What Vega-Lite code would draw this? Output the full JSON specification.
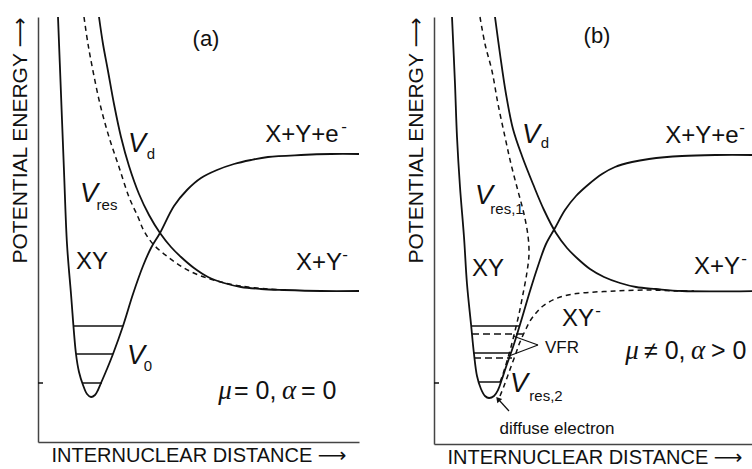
{
  "$schema": "https://vega.github.io/schema/vega-lite/v6.json",
  "padding": {"left": 8, "top": 13, "right": 0, "bottom": 0},
  "spacing": 41,
  "background": "white",
  "config": {
    "view": {"stroke": null},
    "font": "Liberation Sans",
    "axis": {"ticks": false, "labels": false, "grid": false, "domainColor": "#444", "domainWidth": 1.5, "titleFont": "Liberation Sans, DejaVu Sans", "titleFontSize": 20, "titleFontWeight": "normal", "titleColor": "#111"},
    "axisX": {"titlePadding": 3},
    "axisY": {"titlePadding": 8, "titleAnchor": "end", "titleFontSize": 21}
  },
  "datasets": {
    "a_solid": [
      {"c":"XY","i":1,"x":20,"y":425},{"c":"XY","i":2,"x":23,"y":348},{"c":"XY","i":3,"x":26,"y":271},{"c":"XY","i":4,"x":29,"y":198},{"c":"XY","i":5,"x":33,"y":148},{"c":"XY","i":6,"x":38,"y":88},{"c":"XY","i":7,"x":41,"y":70},{"c":"XY","i":8,"x":45,"y":57},{"c":"XY","i":9,"x":49,"y":48},{"c":"XY","i":10,"x":53,"y":45},{"c":"XY","i":11,"x":57,"y":47},{"c":"XY","i":12,"x":60,"y":52},{"c":"XY","i":13,"x":63,"y":59},{"c":"XY","i":14,"x":69,"y":73},{"c":"XY","i":15,"x":75,"y":88},{"c":"XY","i":16,"x":85,"y":116},{"c":"XY","i":17,"x":95,"y":148},{"c":"XY","i":18,"x":105,"y":176},{"c":"XY","i":19,"x":113,"y":194},{"c":"XY","i":20,"x":122,"y":209},{"c":"XY","i":21,"x":136,"y":236},{"c":"XY","i":22,"x":149,"y":252},{"c":"XY","i":23,"x":163,"y":264},{"c":"XY","i":24,"x":179,"y":272},{"c":"XY","i":25,"x":196,"y":278},{"c":"XY","i":26,"x":213,"y":282},{"c":"XY","i":27,"x":230,"y":285},{"c":"XY","i":28,"x":263,"y":287},{"c":"XY","i":29,"x":293,"y":288},{"c":"XY","i":30,"x":321,"y":288},
      {"c":"Vd","i":1,"x":61,"y":425},{"c":"Vd","i":2,"x":65,"y":398},{"c":"Vd","i":3,"x":70,"y":371},{"c":"Vd","i":4,"x":76,"y":338},{"c":"Vd","i":5,"x":83,"y":305},{"c":"Vd","i":6,"x":91,"y":276},{"c":"Vd","i":7,"x":101,"y":248},{"c":"Vd","i":8,"x":111,"y":227},{"c":"Vd","i":9,"x":122,"y":209},{"c":"Vd","i":10,"x":133,"y":195},{"c":"Vd","i":11,"x":143,"y":185},{"c":"Vd","i":12,"x":156,"y":174},{"c":"Vd","i":13,"x":170,"y":165},{"c":"Vd","i":14,"x":186,"y":159},{"c":"Vd","i":15,"x":203,"y":155},{"c":"Vd","i":16,"x":223,"y":153},{"c":"Vd","i":17,"x":246,"y":152},{"c":"Vd","i":18,"x":283,"y":151},{"c":"Vd","i":19,"x":321,"y":151}
    ],
    "a_dashed": [
      {"c":"Vres","i":1,"x":46,"y":425},{"c":"Vres","i":2,"x":50,"y":398},{"c":"Vres","i":3,"x":55,"y":371},{"c":"Vres","i":4,"x":62,"y":338},{"c":"Vres","i":5,"x":71,"y":305},{"c":"Vres","i":6,"x":81,"y":275},{"c":"Vres","i":7,"x":91,"y":245},{"c":"Vres","i":8,"x":100,"y":225},{"c":"Vres","i":9,"x":106,"y":211},{"c":"Vres","i":10,"x":115,"y":198},{"c":"Vres","i":11,"x":130,"y":185},{"c":"Vres","i":12,"x":146,"y":174},{"c":"Vres","i":13,"x":163,"y":166},{"c":"Vres","i":14,"x":183,"y":160},{"c":"Vres","i":15,"x":203,"y":156},{"c":"Vres","i":16,"x":230,"y":153},{"c":"Vres","i":17,"x":250,"y":152}
    ],
    "a_levels": [
      {"x":36,"x2":85,"y":116},{"x":38,"x2":75,"y":88},{"x":44,"x2":64,"y":59},{"x":0,"x2":5,"y":59}
    ],
    "a_big": [
      {"x":54,"y":180,"t":"XY"},{"x":264,"y":307,"t":"X+Y+e"},{"x":281,"y":179,"t":"X+Y"}
    ],
    "a_sup": [{"x":306,"y":315,"t":"-"},{"x":307,"y":187,"t":"-"}],
    "a_greek": [{"x":187,"y":51,"t":"μ"},{"x":251,"y":51,"t":"α"}],
    "a_rel": [{"x":196,"y":51,"t":"= 0,"},{"x":263,"y":51,"t":"= 0"}],
    "a_panel": [{"x":168,"y":403,"t":"(a)"}],
    "a_v": [{"x":99,"y":298,"t":"V"},{"x":51,"y":248,"t":"V"},{"x":98,"y":86,"t":"V"}],
    "a_sub": [{"x":113,"y":288,"t":"d"},{"x":69,"y":237,"t":"res"},{"x":110,"y":76,"t":"0"}],
    "b_solid": [
      {"c":"XY","i":1,"x":18,"y":427},{"c":"XY","i":2,"x":21,"y":360},{"c":"XY","i":3,"x":23,"y":307},{"c":"XY","i":4,"x":26,"y":257},{"c":"XY","i":5,"x":30,"y":207},{"c":"XY","i":6,"x":33,"y":160},{"c":"XY","i":7,"x":37,"y":120},{"c":"XY","i":8,"x":40,"y":90},{"c":"XY","i":9,"x":43,"y":68},{"c":"XY","i":10,"x":47,"y":55},{"c":"XY","i":11,"x":51,"y":48},{"c":"XY","i":12,"x":55,"y":46},{"c":"XY","i":13,"x":60,"y":48},{"c":"XY","i":14,"x":64,"y":54},{"c":"XY","i":15,"x":68,"y":65},{"c":"XY","i":16,"x":72,"y":77},{"c":"XY","i":17,"x":80,"y":100},{"c":"XY","i":18,"x":88,"y":126},{"c":"XY","i":19,"x":96,"y":153},{"c":"XY","i":20,"x":104,"y":178},{"c":"XY","i":21,"x":112,"y":200},{"c":"XY","i":22,"x":121,"y":216},{"c":"XY","i":23,"x":131,"y":234},{"c":"XY","i":24,"x":142,"y":248},{"c":"XY","i":25,"x":155,"y":260},{"c":"XY","i":26,"x":168,"y":270},{"c":"XY","i":27,"x":181,"y":277},{"c":"XY","i":28,"x":198,"y":282},{"c":"XY","i":29,"x":215,"y":285},{"c":"XY","i":30,"x":248,"y":288},{"c":"XY","i":31,"x":282,"y":289},{"c":"XY","i":32,"x":321,"y":289},
      {"c":"Vd","i":1,"x":61,"y":427},{"c":"Vd","i":2,"x":66,"y":390},{"c":"Vd","i":3,"x":72,"y":350},{"c":"Vd","i":4,"x":79,"y":315},{"c":"Vd","i":5,"x":88,"y":288},{"c":"Vd","i":6,"x":99,"y":260},{"c":"Vd","i":7,"x":110,"y":234},{"c":"Vd","i":8,"x":122,"y":211},{"c":"Vd","i":9,"x":133,"y":196},{"c":"Vd","i":10,"x":144,"y":185},{"c":"Vd","i":11,"x":156,"y":175},{"c":"Vd","i":12,"x":170,"y":167},{"c":"Vd","i":13,"x":186,"y":161},{"c":"Vd","i":14,"x":202,"y":157},{"c":"Vd","i":15,"x":222,"y":155},{"c":"Vd","i":16,"x":248,"y":153},{"c":"Vd","i":17,"x":321,"y":153}
    ],
    "b_dashed": [
      {"c":"Vres1","i":1,"x":46,"y":427},{"c":"Vres1","i":2,"x":51,"y":400},{"c":"Vres1","i":3,"x":58,"y":373},{"c":"Vres1","i":4,"x":64,"y":340},{"c":"Vres1","i":5,"x":71,"y":307},{"c":"Vres1","i":6,"x":77,"y":280},{"c":"Vres1","i":7,"x":84,"y":253},{"c":"Vres1","i":8,"x":90,"y":230},{"c":"Vres1","i":9,"x":94,"y":208},{"c":"Vres1","i":10,"x":95,"y":190},{"c":"Vres1","i":11,"x":93,"y":172},{"c":"Vres1","i":12,"x":89,"y":150},{"c":"Vres1","i":13,"x":85,"y":130},{"c":"Vres1","i":14,"x":81,"y":113},{"c":"Vres1","i":15,"x":77,"y":97},{"c":"Vres1","i":16,"x":73,"y":83},{"c":"Vres1","i":17,"x":69,"y":70},{"c":"Vres1","i":18,"x":65,"y":59},
      {"c":"XYm","i":1,"x":66,"y":48},{"c":"XYm","i":2,"x":70,"y":58},{"c":"XYm","i":3,"x":74,"y":69},{"c":"XYm","i":4,"x":78,"y":80},{"c":"XYm","i":5,"x":82,"y":91},{"c":"XYm","i":6,"x":86,"y":102},{"c":"XYm","i":7,"x":91,"y":113},{"c":"XYm","i":8,"x":96,"y":123},{"c":"XYm","i":9,"x":102,"y":131},{"c":"XYm","i":10,"x":109,"y":138},{"c":"XYm","i":11,"x":121,"y":145},{"c":"XYm","i":12,"x":134,"y":149},{"c":"XYm","i":13,"x":148,"y":151},{"c":"XYm","i":14,"x":181,"y":153},{"c":"XYm","i":15,"x":215,"y":154},{"c":"XYm","i":16,"x":242,"y":153},{"c":"XYm","i":17,"x":260,"y":153}
    ],
    "b_levels_solid": [
      {"x":37,"x2":85,"y":118},{"x":39,"x2":77,"y":91},{"x":45,"x2":66,"y":62},{"x":0,"x2":5,"y":61}
    ],
    "b_levels_dashed": [
      {"x":38,"x2":89,"y":110},{"x":40,"x2":78,"y":86}
    ],
    "b_arrows": [
      {"x":104,"y":99,"x2":79,"y2":108},{"x":104,"y":99,"x2":75,"y2":88},{"x":75,"y":33,"x2":65,"y2":44}
    ],
    "b_head": [{"x":64,"y":45}],
    "b_big": [
      {"x":54,"y":175,"t":"XY"},{"x":268,"y":308,"t":"X+Y+e"},{"x":283,"y":177,"t":"X+Y"},{"x":144,"y":125,"t":"XY"}
    ],
    "b_sup": [{"x":308,"y":316,"t":"-"},{"x":310,"y":185,"t":"-"},{"x":164,"y":133,"t":"-"}],
    "b_greek": [{"x":198,"y":93,"t":"μ"},{"x":264,"y":93,"t":"α"}],
    "b_rel": [{"x":210,"y":93,"t":"≠ 0,"},{"x":277,"y":93,"t":"> 0"}],
    "b_panel": [{"x":163,"y":408,"t":"(b)"}],
    "b_small": [{"x":128,"y":96,"t":"VFR"},{"x":123,"y":15,"t":"diffuse electron"}],
    "b_v": [{"x":97,"y":309,"t":"V"},{"x":50,"y":248,"t":"V"},{"x":85,"y":60,"t":"V"}],
    "b_sub": [{"x":111,"y":301,"t":"d"},{"x":73,"y":235,"t":"res,1"},{"x":112,"y":48,"t":"res,2"}]
  },
  "hconcat": [
    {
      "width": 321,
      "height": 425,
      "encoding": {
        "x": {"field": "x", "type": "quantitative", "scale": {"domain": [0, 321], "nice": false, "zero": false}, "axis": {"title": "INTERNUCLEAR DISTANCE  ⟶"}},
        "y": {"field": "y", "type": "quantitative", "scale": {"domain": [0, 425], "nice": false, "zero": false}, "axis": {"title": "POTENTIAL ENERGY  ⟶"}}
      },
      "layer": [
        {"data": {"name": "a_solid"}, "mark": {"type": "line", "interpolate": "catmull-rom", "color": "#111", "strokeWidth": 1.8}, "encoding": {"detail": {"field": "c"}, "order": {"field": "i", "type": "quantitative"}}},
        {"data": {"name": "a_dashed"}, "mark": {"type": "line", "interpolate": "catmull-rom", "color": "#111", "strokeWidth": 1.5, "strokeDash": [5, 4]}, "encoding": {"detail": {"field": "c"}, "order": {"field": "i", "type": "quantitative"}}},
        {"data": {"name": "a_levels"}, "mark": {"type": "rule", "color": "#111", "strokeWidth": 1.5}, "encoding": {"x2": {"field": "x2"}}},
        {"data": {"name": "a_big"}, "mark": {"type": "text", "fontSize": 24, "color": "#111"}, "encoding": {"text": {"field": "t"}}},
        {"data": {"name": "a_sup"}, "mark": {"type": "text", "fontSize": 17, "color": "#111"}, "encoding": {"text": {"field": "t"}}},
        {"data": {"name": "a_greek"}, "mark": {"type": "text", "fontSize": 27, "fontStyle": "italic", "font": "Liberation Serif", "color": "#111"}, "encoding": {"text": {"field": "t"}}},
        {"data": {"name": "a_rel"}, "mark": {"type": "text", "fontSize": 25, "align": "left", "color": "#111"}, "encoding": {"text": {"field": "t"}}},
        {"data": {"name": "a_panel"}, "mark": {"type": "text", "fontSize": 22, "color": "#111"}, "encoding": {"text": {"field": "t"}}},
        {"data": {"name": "a_v"}, "mark": {"type": "text", "fontSize": 27, "fontStyle": "italic", "color": "#111"}, "encoding": {"text": {"field": "t"}}},
        {"data": {"name": "a_sub"}, "mark": {"type": "text", "fontSize": 15, "color": "#111"}, "encoding": {"text": {"field": "t"}}}
      ]
    },
    {
      "width": 321,
      "height": 427,
      "encoding": {
        "x": {"field": "x", "type": "quantitative", "scale": {"domain": [0, 321], "nice": false, "zero": false}, "axis": {"title": "INTERNUCLEAR DISTANCE  ⟶"}},
        "y": {"field": "y", "type": "quantitative", "scale": {"domain": [0, 427], "nice": false, "zero": false}, "axis": {"title": "POTENTIAL ENERGY  ⟶"}}
      },
      "layer": [
        {"data": {"name": "b_solid"}, "mark": {"type": "line", "interpolate": "catmull-rom", "color": "#111", "strokeWidth": 1.8}, "encoding": {"detail": {"field": "c"}, "order": {"field": "i", "type": "quantitative"}}},
        {"data": {"name": "b_dashed"}, "mark": {"type": "line", "interpolate": "catmull-rom", "color": "#111", "strokeWidth": 1.5, "strokeDash": [5, 4]}, "encoding": {"detail": {"field": "c"}, "order": {"field": "i", "type": "quantitative"}}},
        {"data": {"name": "b_levels_solid"}, "mark": {"type": "rule", "color": "#111", "strokeWidth": 1.5}, "encoding": {"x2": {"field": "x2"}}},
        {"data": {"name": "b_levels_dashed"}, "mark": {"type": "rule", "color": "#111", "strokeWidth": 1.5, "strokeDash": [7, 4]}, "encoding": {"x2": {"field": "x2"}}},
        {"data": {"name": "b_arrows"}, "mark": {"type": "rule", "color": "#111", "strokeWidth": 1.2}, "encoding": {"x2": {"field": "x2"}, "y2": {"field": "y2"}}},
        {"data": {"name": "b_head"}, "mark": {"type": "point", "shape": "triangle-up", "angle": -40, "filled": true, "size": 40, "color": "#111", "opacity": 1}},
        {"data": {"name": "b_big"}, "mark": {"type": "text", "fontSize": 24, "color": "#111"}, "encoding": {"text": {"field": "t"}}},
        {"data": {"name": "b_sup"}, "mark": {"type": "text", "fontSize": 17, "color": "#111"}, "encoding": {"text": {"field": "t"}}},
        {"data": {"name": "b_greek"}, "mark": {"type": "text", "fontSize": 27, "fontStyle": "italic", "font": "Liberation Serif", "color": "#111"}, "encoding": {"text": {"field": "t"}}},
        {"data": {"name": "b_rel"}, "mark": {"type": "text", "fontSize": 25, "align": "left", "color": "#111"}, "encoding": {"text": {"field": "t"}}},
        {"data": {"name": "b_panel"}, "mark": {"type": "text", "fontSize": 22, "color": "#111"}, "encoding": {"text": {"field": "t"}}},
        {"data": {"name": "b_small"}, "mark": {"type": "text", "fontSize": 17, "color": "#111"}, "encoding": {"text": {"field": "t"}}},
        {"data": {"name": "b_v"}, "mark": {"type": "text", "fontSize": 27, "fontStyle": "italic", "color": "#111"}, "encoding": {"text": {"field": "t"}}},
        {"data": {"name": "b_sub"}, "mark": {"type": "text", "fontSize": 15, "color": "#111"}, "encoding": {"text": {"field": "t"}}}
      ]
    }
  ]
}
